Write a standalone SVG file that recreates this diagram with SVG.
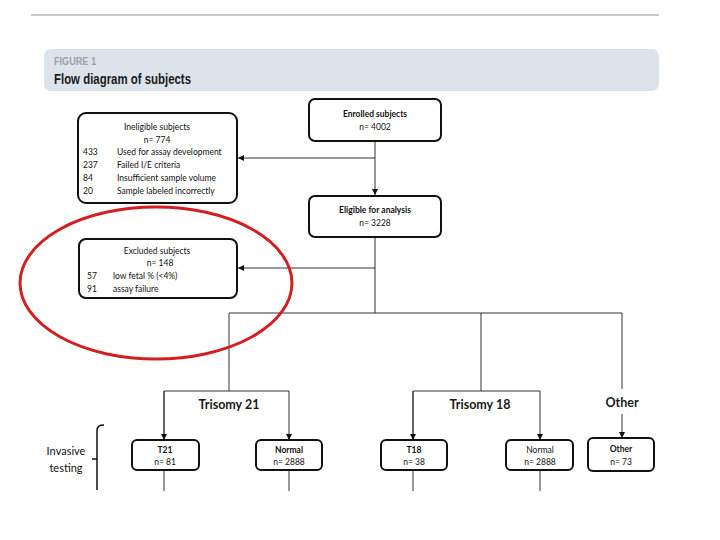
<svg xmlns="http://www.w3.org/2000/svg" width="720" height="540" viewBox="0 0 720 540">
<style>
.box{fill:#fff;stroke:#111;stroke-width:2}
.ln{fill:none;stroke:#333;stroke-width:1}
.t{font-family:Lato,"Open Sans","Liberation Sans",sans-serif;fill:#111}
.b{font-weight:bold}
.s{font-size:8.5px}
.m{font-size:12.5px;font-weight:bold;fill:#1a1a1a}
</style>
<defs>
<marker id="ah" viewBox="0 0 10 10" refX="10" refY="5" markerWidth="6" markerHeight="6" markerUnits="userSpaceOnUse" orient="auto">
<path d="M0,0 L10,5 L0,10 Z" fill="#111"/>
</marker>
</defs>
<rect width="720" height="540" fill="#fff"/>
<line x1="31" y1="15" x2="659" y2="15" stroke="#8a9398" stroke-width="1"/>
<g id="banner">
<rect x="44" y="49" width="615" height="42" rx="7" fill="#dde3ea"/>
<text x="54" y="65" font-family="Liberation Sans,sans-serif" font-size="11.5" font-weight="bold" fill="#9aa3aa" textLength="42" lengthAdjust="spacingAndGlyphs">FIGURE 1</text>
<text x="54" y="84" font-family="Liberation Sans,sans-serif" font-size="15.5" font-weight="bold" fill="#1a1a1a" textLength="137" lengthAdjust="spacingAndGlyphs">Flow diagram of subjects</text>
</g>
<g id="connectors">
<line class="ln" x1="375" y1="141" x2="375" y2="195" marker-end="url(#ah)"/>
<line class="ln" x1="375" y1="158" x2="238" y2="158" marker-end="url(#ah)"/>
<line class="ln" x1="375" y1="237" x2="375" y2="313" stroke-width="1.3"/>
<line class="ln" x1="375" y1="268" x2="238" y2="268" marker-end="url(#ah)"/>
<polyline class="ln" points="229,391 229,313 622,313 622,389"/>
<line class="ln" x1="481" y1="313" x2="481" y2="391"/>
<polyline class="ln" points="164,440 164,391 289,391 289,440" marker-end="url(#ah)"/>
<line class="ln" x1="164" y1="391" x2="164" y2="440" marker-end="url(#ah)"/>
<polyline class="ln" points="413,440 413,391 540,391 540,440" marker-end="url(#ah)"/>
<line class="ln" x1="413" y1="391" x2="413" y2="440" marker-end="url(#ah)"/>
<line class="ln" x1="622" y1="414" x2="622" y2="438" marker-end="url(#ah)"/>
<line class="ln" x1="164" y1="470" x2="164" y2="491"/>
<line class="ln" x1="289" y1="470" x2="289" y2="491"/>
<line class="ln" x1="413" y1="470" x2="413" y2="491"/>
<line class="ln" x1="540" y1="470" x2="540" y2="491"/>
</g>
<g id="enrolled">
<rect class="box" x="309" y="99" width="132" height="42" rx="6"/>
<text class="t s b" x="375" y="117" text-anchor="middle">Enrolled subjects</text>
<text class="t s" x="375" y="130" text-anchor="middle">n= 4002</text>
</g>
<g id="eligible">
<rect class="box" x="309" y="196" width="132" height="41" rx="6"/>
<text class="t s b" x="375" y="213" text-anchor="middle">Eligible for analysis</text>
<text class="t s" x="375" y="226" text-anchor="middle">n= 3228</text>
</g>
<g id="ineligible">
<rect class="box" x="78" y="113" width="159" height="90" rx="8"/>
<text class="t s" x="157" y="130" text-anchor="middle">Ineligible subjects</text>
<text class="t s" x="157" y="143" text-anchor="middle">n= 774</text>
<text class="t s" x="83" y="155">433</text><text class="t s" x="117" y="155">Used for assay development</text>
<text class="t s" x="83" y="168">237</text><text class="t s" x="117" y="168">Failed I/E criteria</text>
<text class="t s" x="83" y="181">84</text><text class="t s" x="117" y="181">Insufficient sample volume</text>
<text class="t s" x="83" y="194">20</text><text class="t s" x="117" y="194">Sample labeled  incorrectly</text>
</g>
<g id="excluded">
<rect class="box" x="79" y="239" width="158" height="59" rx="7"/>
<text class="t s" x="157" y="254" text-anchor="middle">Excluded subjects</text>
<text class="t s" x="160" y="266" text-anchor="middle">n= 148</text>
<text class="t s" x="87" y="279">57</text><text class="t s" x="113" y="279">low fetal % (&lt;4%)</text>
<text class="t s" x="87" y="292">91</text><text class="t s" x="113" y="292">assay failure</text>
</g>
<ellipse cx="156" cy="283" rx="136" ry="76" fill="none" stroke="#d11f22" stroke-width="3"/>
<g id="labels">
<text class="t m" x="229" y="409" text-anchor="middle">Trisomy 21</text>
<text class="t m" x="480" y="409" text-anchor="middle">Trisomy 18</text>
<text class="t m" x="622" y="407" text-anchor="middle">Other</text>
</g>
<g id="t21">
<rect class="box" x="132" y="440" width="67" height="30" rx="5"/>
<text class="t s b" x="165" y="453" text-anchor="middle">T21</text>
<text class="t s" x="165" y="465" text-anchor="middle">n= 81</text>
</g>
<g id="normal21">
<rect class="box" x="256" y="440" width="66" height="30" rx="5"/>
<text class="t s b" x="289" y="453" text-anchor="middle">Normal</text>
<text class="t s" x="289" y="465" text-anchor="middle">n= 2888</text>
</g>
<g id="t18">
<rect class="box" x="381" y="440" width="66" height="30" rx="5"/>
<text class="t s b" x="414" y="453" text-anchor="middle">T18</text>
<text class="t s" x="414" y="465" text-anchor="middle">n= 38</text>
</g>
<g id="normal18">
<rect class="box" x="506" y="440" width="67" height="30" rx="5"/>
<text class="t s" x="540" y="453" text-anchor="middle">Normal</text>
<text class="t s" x="540" y="465" text-anchor="middle">n= 2888</text>
</g>
<g id="other">
<rect class="box" x="588" y="438" width="66" height="33" rx="5"/>
<text class="t s b" x="621" y="452" text-anchor="middle">Other</text>
<text class="t s" x="621" y="465" text-anchor="middle">n= 73</text>
</g>
<g id="invasive">
<text class="t" font-size="11" x="66" y="455" text-anchor="middle">Invasive</text>
<text class="t" font-size="11" x="66" y="472" text-anchor="middle">testing</text>
<path d="M104,425 Q97,425 97,430 L97,490 M97,459 L92,459" fill="none" stroke="#111" stroke-width="1.5"/>
</g>
</svg>
